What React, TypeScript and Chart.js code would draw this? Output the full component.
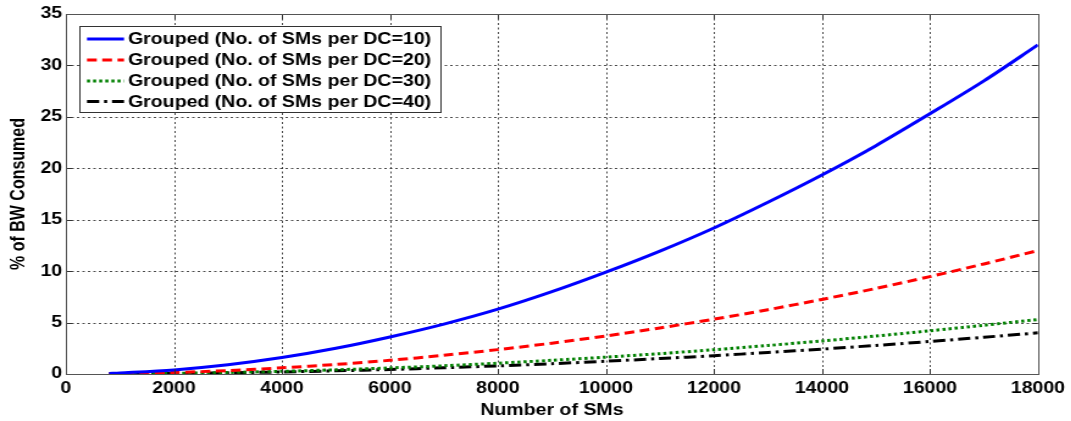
import { useEffect, useRef } from "react";
import { Chart, registerables } from "chart.js";
Chart.register(...registerables);

const smCounts = [800, 1000, 2000, 3000, 4000, 5000, 6000, 7000, 8000, 9000, 10000, 11000, 12000, 13000, 14000, 15000, 16000, 17000, 18000];
const groupedDC10 = [0.06, 0.1, 0.4, 0.9, 1.6, 2.5, 3.6, 4.85, 6.3, 8.0, 9.9, 11.95, 14.2, 16.7, 19.35, 22.2, 25.3, 28.5, 32.0];
const groupedDC20 = [0.02, 0.04, 0.15, 0.33, 0.6, 0.93, 1.33, 1.82, 2.37, 3.0, 3.7, 4.48, 5.33, 6.25, 7.25, 8.32, 9.47, 10.7, 12.0];
const groupedDC30 = [0.01, 0.02, 0.07, 0.15, 0.26, 0.41, 0.59, 0.8, 1.05, 1.33, 1.64, 1.98, 2.36, 2.77, 3.21, 3.69, 4.2, 4.74, 5.3];
const groupedDC40 = [0.01, 0.01, 0.05, 0.11, 0.2, 0.31, 0.44, 0.61, 0.79, 1.0, 1.24, 1.5, 1.78, 2.09, 2.42, 2.78, 3.16, 3.57, 4.0];
const seriesLabels = [
  "Grouped (No. of SMs per DC=10)",
  "Grouped (No. of SMs per DC=20)",
  "Grouped (No. of SMs per DC=30)",
  "Grouped (No. of SMs per DC=40)",
];
const xTitle = "Number of SMs";
const yTitle = "% of BW Consumed";

const FONT = "'Liberation Sans', Arial, sans-serif";
// the reference image is horizontally stretched; render narrower and stretch
const SX = 1.22;
const W = Math.round(1071 / SX);
const H = 421;

export default function App() {
  const ref = useRef<HTMLCanvasElement>(null);
  useEffect(() => {
    const canvas = ref.current;
    if (!canvas) return;
    const styles = [
      { color: "#0000ff", dash: [] as number[] },
      { color: "#ff0000", dash: [8, 4.5] },
      { color: "#008000", dash: [2.5, 2.5] },
      { color: "#000000", dash: [10, 4, 2.5, 4] },
    ];
    const allSeries = [groupedDC10, groupedDC20, groupedDC30, groupedDC40];
    const datasets = allSeries.map((s, i) => ({
      label: seriesLabels[i],
      data: s.map((v, j) => ({ x: smCounts[j], y: v })),
      borderColor: styles[i].color,
      borderDash: styles[i].dash,
      borderWidth: 3,
      pointRadius: 0,
      tension: 0.3,
      fill: false,
    }));

    const gridPlugin = {
      id: "matlabGrid",
      beforeDatasetsDraw(chart: any) {
        const ctx = chart.ctx;
        const a = chart.chartArea;
        const xs = chart.scales.x;
        const ys = chart.scales.y;
        ctx.save();
        ctx.strokeStyle = "rgba(0,0,0,0.7)";
        ctx.lineWidth = 1;
        ctx.setLineDash([2, 2.5]);
        ctx.beginPath();
        xs.ticks.forEach((t: any) => {
          const px = Math.round(xs.getPixelForValue(t.value)) + 0.5;
          ctx.moveTo(px, a.top);
          ctx.lineTo(px, a.bottom);
        });
        ys.ticks.forEach((t: any) => {
          const py = Math.round(ys.getPixelForValue(t.value)) + 0.5;
          ctx.moveTo(a.left, py);
          ctx.lineTo(a.right, py);
        });
        ctx.stroke();
        ctx.restore();
      },
    };

    const boxPlugin = {
      id: "matlabBox",
      afterDraw(chart: any) {
        const ctx = chart.ctx;
        const a = chart.chartArea;
        const xs = chart.scales.x;
        const ys = chart.scales.y;
        ctx.save();
        ctx.strokeStyle = "#333";
        ctx.lineWidth = 1;
        ctx.setLineDash([]);
        ctx.beginPath();
        xs.ticks.forEach((t: any) => {
          const px = Math.round(xs.getPixelForValue(t.value)) + 0.5;
          ctx.moveTo(px, a.bottom);
          ctx.lineTo(px, a.bottom - 5);
          ctx.moveTo(px, a.top);
          ctx.lineTo(px, a.top + 5);
        });
        ys.ticks.forEach((t: any) => {
          const py = Math.round(ys.getPixelForValue(t.value)) + 0.5;
          ctx.moveTo(a.left, py);
          ctx.lineTo(a.left + 5, py);
          ctx.moveTo(a.right, py);
          ctx.lineTo(a.right - 5, py);
        });
        ctx.stroke();
        ctx.strokeStyle = "#555";
        ctx.strokeRect(Math.round(a.left) + 0.5, Math.round(a.top) + 0.5, Math.round(a.right - a.left), Math.round(a.bottom - a.top));
        // legend
        const lx = Math.round(79 / SX), ly = 26, lw = Math.round(361 / SX), lh = 86;
        ctx.fillStyle = "#fff";
        ctx.fillRect(lx, ly, lw, lh);
        ctx.strokeStyle = "#333";
        ctx.lineWidth = 1;
        ctx.strokeRect(lx + 0.5, ly + 0.5, lw, lh);
        const rows = [39, 60, 81, 101.5];
        ctx.font = `bold 16px ${FONT}`;
        ctx.textBaseline = "middle";
        ctx.textAlign = "left";
        rows.forEach((ry, i) => {
          ctx.strokeStyle = styles[i].color;
          ctx.lineWidth = 3;
          ctx.setLineDash(styles[i].dash);
          ctx.beginPath();
          ctx.moveTo(87 / SX, ry);
          ctx.lineTo(124 / SX, ry);
          ctx.stroke();
          ctx.setLineDash([]);
          ctx.fillStyle = "#000";
          ctx.fillText(seriesLabels[i], 128 / SX, ry + 1);
        });
        ctx.restore();
      },
    };

    const chart = new Chart(canvas, {
      type: "line",
      data: { datasets },
      options: {
        animation: false,
        responsive: false,
        layout: { padding: { top: 14, right: Math.round(31 / SX), left: 0, bottom: 0 } },
        plugins: { legend: { display: false }, tooltip: { enabled: false } },
        scales: {
          x: {
            type: "linear",
            min: 0,
            max: 18000,
            afterFit: (s: any) => { s.height = 47; },
            ticks: {
              stepSize: 2000,
              color: "#000",
              padding: 5,
              maxRotation: 0,
              autoSkip: false,
              font: { family: FONT, size: 16, weight: "bold" },
              callback: (v: any) => String(v),
            },
            grid: { display: false, drawTicks: false, tickLength: 0 },
            border: { display: false },
            title: {
              display: true,
              text: xTitle,
              color: "#000",
              font: { family: FONT, size: 16, weight: "bold" },
              padding: { top: 0, bottom: 1 },
            },
          },
          y: {
            min: 0,
            max: 35,
            afterFit: (s: any) => { s.width = Math.round(66 / SX); },
            ticks: {
              stepSize: 5,
              color: "#000",
              padding: 3,
              font: { family: FONT, size: 16, weight: "bold" },
            },
            grid: { display: false, drawTicks: false, tickLength: 0 },
            border: { display: false },
            title: {
              display: true,
              text: yTitle,
              color: "#000",
              font: { family: FONT, size: 16, weight: "bold" },
              padding: { top: 6, bottom: 0 },
            },
          },
        },
      },
      plugins: [gridPlugin, boxPlugin],
    });
    return () => chart.destroy();
  }, []);
  return (
    <div style={{ position: "fixed", left: 0, top: 0, width: 1071, height: 421, background: "#fff", overflow: "hidden" }}>
      <div style={{ width: W, height: H, transform: `scaleX(${SX})`, transformOrigin: "0 0" }}>
        <canvas ref={ref} width={W} height={H} style={{ display: "block" }} />
      </div>
    </div>
  );
}
